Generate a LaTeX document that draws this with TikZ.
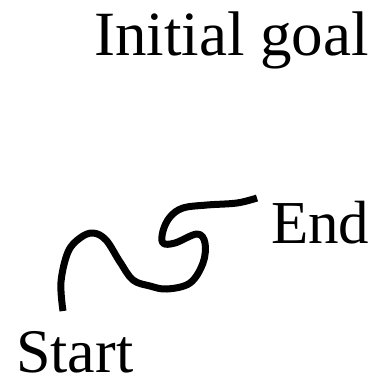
\documentclass[tikz,border=0pt]{standalone}
\usepackage{fontspec}
\setmainfont{Liberation Serif}
\begin{document}
\begin{tikzpicture}[x=1bp,y=-1bp,
  lbl/.style={anchor=base west,inner sep=0pt,text depth=0pt,font=\fontsize{61bp}{70bp}\selectfont},
  path/.style={line width=7bp,line join=round}]
\useasboundingbox (0,0) rectangle (378,382);
\node[lbl,font=\fontsize{63bp}{72bp}\selectfont] (goal) at (94,55) {Initial goal};
\node[lbl] (end) at (271,243) {End};
\node[lbl,font=\fontsize{62bp}{71bp}\selectfont] (start) at (16,372) {Start};
\coordinate (s) at (63,311);
\coordinate (e) at (257,198);
\draw[path] plot[smooth,tension=0.6] coordinates {(s) (61,282) (68,252) (80,238) (93,233) (106,240) (120,262) (133,280) (150,286) (167,289) (190,283) (203,263) (205,243) (197,234) (175,243) (163,243) (163,231) (170,217) (183,208) (207,205) (237,203) (e)};
\end{tikzpicture}
\end{document}
